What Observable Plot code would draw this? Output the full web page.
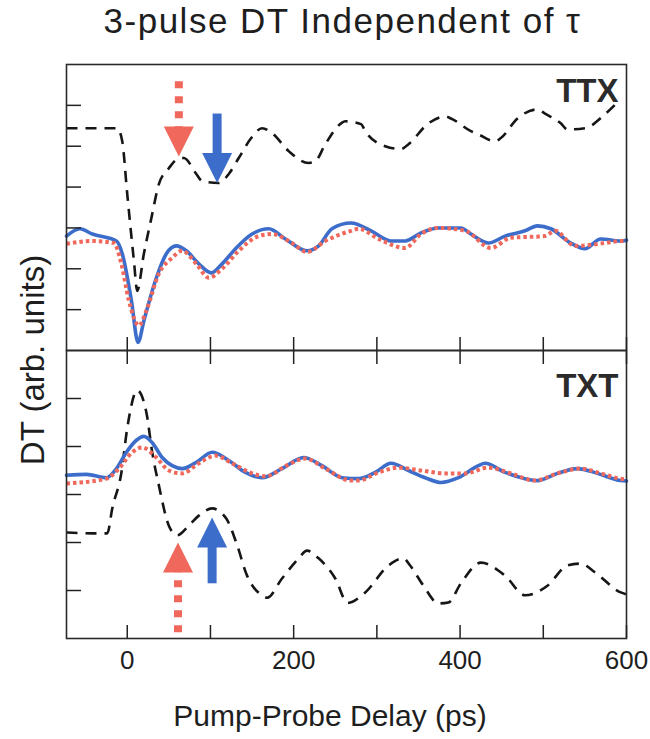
<!DOCTYPE html>
<html>
<head>
<meta charset="utf-8">
<script src="https://cdn.jsdelivr.net/npm/d3@7"></script>
<script src="https://cdn.jsdelivr.net/npm/@observablehq/plot@0.6"></script>
<style>
  body { margin: 0; background: #fff; font-family: "Liberation Sans", Arial, sans-serif; }
  #wrap { position: relative; width: 650px; height: 739px; overflow: hidden; background: #fff; }
  #title { position: absolute; left: 0; top: 3px; width: 685px; text-align: center; font-size: 35px; line-height: 35px; letter-spacing: 1.5px; color: #1e1e1e; white-space: nowrap; }
  #ylab { position: absolute; left: 31.5px; top: 360px; transform: translate(-50%, -50%) rotate(-90deg); font-size: 33px; line-height: 33px; color: #1e1e1e; white-space: nowrap; }
  #xlab { position: absolute; left: 0; width: 660px; top: 701px; text-align: center; font-size: 30px; line-height: 30px; color: #1e1e1e; white-space: nowrap; }
  .panel { position: absolute; left: 0; }
</style>
</head>
<body>
<div id="wrap">
  <div id="title">3-pulse DT Independent of τ</div>
  <div class="panel" id="top" style="top:64px"></div>
  <div class="panel" id="bottom" style="top:350px"></div>
  <div id="ylab">DT (arb. units)</div>
  <div id="xlab">Pump-Probe Delay (ps)</div>
</div>
<script>
// ---------- axis ticks ----------
const xTicks = [0, 100, 200, 300, 400, 500, 600];
const xTickLabels = [0, 200, 400, 600];
const ttxYTicks = [1, 2, 3, 4, 5, 6];
const txtYTicks = [1, 2, 3, 4, 5];
const panelNames = ["TTX", "TXT"];

// ---------- TTX panel (top) ----------
const ttxDashedDelay = [-73, -12, -6, 0, 8, 12, 20, 29, 38, 50, 60, 68, 83, 90, 110, 122, 134, 149, 162, 174, 194, 218, 226, 238, 257, 262, 281, 286, 310, 329, 338, 362, 382, 389, 413, 422, 442, 449, 469, 493, 502, 521, 529, 550, 574, 588];
const ttxDashedDT    = [5.44, 5.44, 5.12, 3.83, 2.20, 1.46, 2.37, 3.24, 4.07, 4.46, 4.68, 4.71, 4.32, 4.15, 4.10, 4.32, 4.71, 5.20, 5.44, 5.32, 4.88, 4.59, 4.63, 5.05, 5.56, 5.61, 5.54, 5.37, 5.00, 4.93, 5.05, 5.56, 5.73, 5.68, 5.37, 5.29, 5.12, 5.20, 5.68, 5.90, 5.80, 5.56, 5.41, 5.44, 5.78, 6.05];

const ttxBlueDelay = [-73, -57, -42, -13, -6, 5, 13, 20, 35, 47, 59, 71, 86, 101, 114, 131, 150, 170, 190, 216, 230, 246, 269, 293, 317, 334, 353, 374, 401, 413, 434, 454, 478, 493, 509, 533, 550, 569, 593, 600];
const ttxBlueDT    = [2.80, 2.98, 2.85, 2.68, 2.37, 1.22, 0.20, 0.73, 1.78, 2.37, 2.56, 2.44, 2.12, 1.90, 2.12, 2.51, 2.85, 2.98, 2.73, 2.44, 2.56, 2.98, 3.12, 2.93, 2.68, 2.68, 2.88, 3.00, 3.00, 2.85, 2.63, 2.80, 2.93, 3.05, 2.98, 2.63, 2.49, 2.73, 2.68, 2.70];

const ttxRedDelay = [-73, -42, -16, -7, 2, 14, 23, 38, 54, 66, 83, 98, 114, 134, 158, 174, 198, 216, 238, 269, 278, 302, 334, 353, 374, 406, 437, 461, 502, 514, 538, 574, 593, 600];
const ttxRedDT    = [2.61, 2.68, 2.63, 2.12, 1.22, 0.61, 0.98, 1.88, 2.27, 2.44, 2.12, 1.78, 2.00, 2.44, 2.80, 2.85, 2.63, 2.41, 2.68, 2.93, 2.98, 2.73, 2.51, 2.85, 3.00, 2.93, 2.51, 2.76, 2.80, 2.93, 2.56, 2.63, 2.68, 2.68];

// ---------- TXT panel (bottom) ----------
const txtDashedDelay = [-73, -42, -24, -18, -7, 0, 12, 23, 30, 38, 50, 60, 74, 86, 102, 119, 131, 144, 162, 168, 186, 206, 216, 230, 250, 265, 286, 314, 332, 340, 356, 374, 386, 401, 425, 454, 478, 505, 529, 545, 562, 593, 600];
const txtDashedDT    = [2.21, 2.19, 2.19, 2.71, 3.46, 4.38, 5.17, 4.71, 3.88, 3.19, 2.35, 2.15, 2.35, 2.56, 2.71, 2.50, 2.00, 1.31, 0.90, 0.85, 1.25, 1.67, 1.83, 1.67, 1.25, 0.74, 0.96, 1.52, 1.67, 1.52, 1.10, 0.73, 0.75, 1.15, 1.58, 1.31, 0.90, 1.10, 1.52, 1.56, 1.38, 0.96, 0.92];

const txtBlueDelay = [-73, -49, -25, -13, -1, 11, 20, 30, 42, 54, 66, 83, 102, 122, 142, 162, 186, 212, 234, 258, 278, 298, 317, 338, 358, 377, 398, 422, 430, 454, 478, 493, 517, 541, 565, 593, 600];
const txtBlueDT    = [3.40, 3.42, 3.35, 3.54, 3.88, 4.13, 4.21, 4.08, 3.77, 3.60, 3.54, 3.67, 3.88, 3.71, 3.46, 3.35, 3.54, 3.77, 3.60, 3.35, 3.33, 3.46, 3.65, 3.50, 3.35, 3.25, 3.35, 3.60, 3.65, 3.46, 3.33, 3.29, 3.44, 3.54, 3.44, 3.29, 3.28];

const txtRedDelay = [-73, -25, -10, 6, 18, 35, 50, 66, 86, 106, 126, 150, 167, 191, 214, 238, 269, 278, 302, 326, 353, 382, 406, 434, 461, 490, 517, 545, 569, 593, 600];
const txtRedDT    = [3.23, 3.33, 3.54, 3.88, 3.98, 3.77, 3.50, 3.44, 3.65, 3.81, 3.65, 3.44, 3.38, 3.60, 3.75, 3.54, 3.29, 3.29, 3.46, 3.56, 3.50, 3.44, 3.44, 3.56, 3.44, 3.29, 3.44, 3.54, 3.44, 3.33, 3.32];

// ---------- arrows (panel, series, delay, tail value, tip value) ----------
const arrowPanel  = ["TTX", "TTX", "TXT", "TXT"];
const arrowSeries = ["red", "blue", "red", "blue"];
const arrowDelay  = [62, 108, 61, 102];
const arrowTail   = [6.59, 5.80, 0.13, 1.15];
const arrowTip    = [4.75, 4.10, 2.00, 2.52];

// ---------- build ----------
const COLORS = { dashed: "#161616", blue: "#3d6dcb", red: "#f0685b" };
const rows = (delay, dt) => delay.map((d, i) => ({ delay: d, dt: dt[i] }));
const arrows = arrowDelay.map((d, i) => ({ panel: arrowPanel[i], series: arrowSeries[i], delay: d, tail: arrowTail[i], tip: arrowTip[i] }));

const HEAD_H = 30, HEAD_W = 15;
const shaftShape = { draw(ctx, l) { ctx.moveTo(0, 0); ctx.lineTo(0, -(l - HEAD_H + 2)); } };
const headShape = { draw(ctx, l) { ctx.moveTo(0, -l); ctx.lineTo(-HEAD_W, -l + HEAD_H); ctx.lineTo(HEAD_W, -l + HEAD_H); ctx.closePath(); } };

function panel({ name, dashed, blue, red, yDomain, yTicks, height, marginBottom, bottomLabels, topTicks, labelDy }) {
  const inner = height - marginBottom;
  const arr = arrows.filter(a => a.panel === name);
  const vecOpts = { x: "delay", y: "tail", length: d => Math.abs(d.tail - d.tip), rotate: d => (d.tip < d.tail ? 180 : 0), anchor: "start" };
  const marks = [
    Plot.line(dashed, { x: "delay", y: "dt", stroke: COLORS.dashed, strokeWidth: 2.6, strokeDasharray: "11,8", strokeLinecap: "butt", curve: "monotone-x" }),
    Plot.line(blue, { x: "delay", y: "dt", stroke: COLORS.blue, strokeWidth: 3.6, curve: "monotone-x" }),
    Plot.line(red, { x: "delay", y: "dt", stroke: COLORS.red, strokeWidth: 4, strokeDasharray: "3.5,3", strokeLinecap: "butt", curve: "monotone-x" }),
    Plot.vector(arr.filter(a => a.series === "red"), { ...vecOpts, shape: shaftShape, stroke: COLORS.red, strokeWidth: 8, strokeDasharray: "7,8", strokeLinecap: "butt", fill: "none" }),
    Plot.vector(arr.filter(a => a.series === "blue"), { ...vecOpts, shape: shaftShape, stroke: COLORS.blue, strokeWidth: 9, strokeLinecap: "butt", fill: "none" }),
    Plot.vector(arr.filter(a => a.series === "red"), { ...vecOpts, shape: headShape, fill: COLORS.red, stroke: "none" }),
    Plot.vector(arr.filter(a => a.series === "blue"), { ...vecOpts, shape: headShape, fill: COLORS.blue, stroke: "none" }),
    Plot.text([name], { frameAnchor: "top-right", text: d => d, textAnchor: "end", lineAnchor: "top", dx: -8, dy: labelDy, fontSize: 33, fontWeight: "bold", fill: "#2b2b2b" }),
    Plot.frame({ stroke: "#2a2a2a", strokeWidth: 1.6 }),
    Plot.axisY({ anchor: "left", ticks: yTicks, tickSize: -15, tickFormat: () => "", label: null, strokeWidth: 1.5, stroke: "#222" }),
    Plot.axisX({ anchor: "bottom", ticks: xTicks, tickSize: -13, tickFormat: () => "", label: null, strokeWidth: 1.5, stroke: "#222" })
  ];
  if (topTicks) marks.push(Plot.axisX({ anchor: "top", ticks: xTicks, tickSize: -13, tickFormat: () => "", label: null, strokeWidth: 1.5, stroke: "#222" }));
  if (bottomLabels) marks.push(Plot.axisX({ anchor: "bottom", ticks: xTickLabels, tickSize: 0, tickPadding: 12, fontSize: 26, label: null, fill: "#1e1e1e" }));
  return Plot.plot({
    width: 650, height, marginLeft: 66, marginRight: 24, marginTop: 0, marginBottom,
    style: { background: "transparent", overflow: "visible", fontFamily: "'Liberation Sans', Arial, sans-serif", color: "#222" },
    x: { domain: [-73, 600] },
    y: { domain: yDomain },
    length: { domain: [0, yDomain[1]], range: [0, inner] },
    marks
  });
}

document.getElementById("top").append(panel({
  name: panelNames[0],
  dashed: rows(ttxDashedDelay, ttxDashedDT), blue: rows(ttxBlueDelay, ttxBlueDT), red: rows(ttxRedDelay, ttxRedDT),
  yDomain: [0, 7], yTicks: ttxYTicks, height: 286, marginBottom: 0, bottomLabels: false, topTicks: false, labelDy: 14
}));
document.getElementById("bottom").append(panel({
  name: panelNames[1],
  dashed: rows(txtDashedDelay, txtDashedDT), blue: rows(txtBlueDelay, txtBlueDT), red: rows(txtRedDelay, txtRedDT),
  yDomain: [0, 6], yTicks: txtYTicks, height: 389, marginBottom: 101, bottomLabels: true, topTicks: true, labelDy: 23
}));
</script>
</body>
</html>
